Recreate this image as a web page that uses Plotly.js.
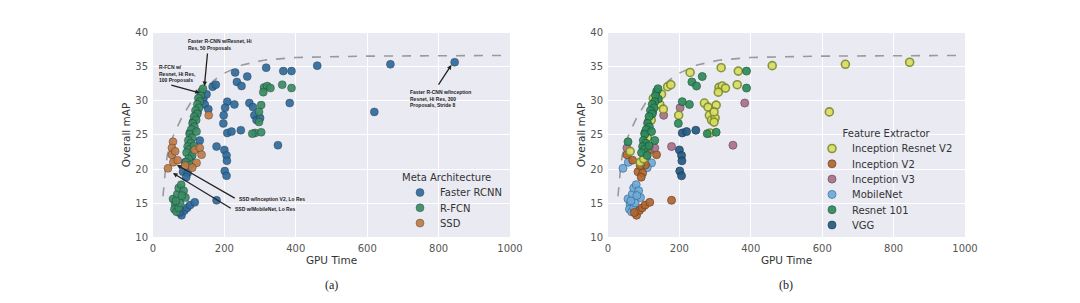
<!DOCTYPE html>
<html>
<head>
<meta charset="utf-8">
<script src="https://cdn.plot.ly/plotly-3.0.1.min.js"></script>
<style>html,body{margin:0;padding:0;background:#fff;}#chart{width:1080px;height:303px;}</style>
</head>
<body>
<div id="chart"></div>
<script>
// ---------- DATA ----------
const fasterTime = [460,665,845,620,317,365,388,230,264,167,176,235,248,383,208,228,198,270,280,284,290,300,197,208,220,246,350,178,200,206,207,201,206,178,80,88,96,104,117,74,125,112,103,84,97,141,150,118,131,202,145,155,93,107,90];
const fasterMAP  = [35.2,35.4,35.7,28.4,34.9,34.4,34.4,34.2,33.6,32.1,32.4,32.8,32.2,29.7,29.9,29.5,27.9,29.7,29.1,27.9,27.2,27.5,26.7,25.3,25.5,25.7,23.5,23.3,22.8,22.0,21.2,19.7,19.0,15.4,13.2,13.9,14.3,14.7,15.1,13.6,28.4,26.9,25.3,19.6,19.4,30.3,31.0,27.6,24.2,29.0,29.5,28.8,18.8,21.8,21.0];
const fasterExt  = ['Inception Resnet V2','Inception Resnet V2','Inception Resnet V2','Inception Resnet V2','Inception Resnet V2','Inception Resnet V2','Resnet 101','Inception Resnet V2','Resnet 101','Inception Resnet V2','Inception Resnet V2','Resnet 101','Resnet 101','Inception V3','Resnet 101','Resnet 101','Inception Resnet V2','Inception Resnet V2','Inception Resnet V2','Inception Resnet V2','Inception Resnet V2','Inception Resnet V2','Resnet 101','VGG','VGG','VGG','Inception V3','Inception V3','VGG','VGG','VGG','VGG','VGG','Inception V2','Inception V2','Inception V2','Inception V2','Inception V2','Inception V2','Inception V2','Resnet 101','Inception V3','Resnet 101','Inception V2','Inception V2','Resnet 101','Inception Resnet V2','Inception Resnet V2','Resnet 101','Inception V3','Inception Resnet V2','Inception Resnet V2','Inception V2','Inception V3','Inception Resnet V2'];

const rfcnTime = [311,320,329,309,362,388,303,297,297,286,303,278,136,133,127,131,124,129,119,124,115,121,111,116,107,103,110,99,106,97,102,94,110,100,92,105,115,122,140,56,62,60,66,72,76,68,72,79,86,91,81,64];
const rfcnMAP  = [32.0,32.2,31.9,31.3,32.4,31.9,29.4,28.4,26.9,25.3,25.4,25.2,31.4,30.8,30.4,29.9,29.5,29.0,28.6,28.1,27.7,27.2,26.7,26.2,25.8,25.1,24.6,24.2,23.8,23.3,22.9,22.4,22.0,21.5,21.0,20.6,23.4,25.5,31.8,15.6,14.8,14.1,13.7,14.3,15.0,16.3,17.2,17.7,16.8,15.8,16.1,15.3];
const rfcnExt  = ['Inception Resnet V2','Inception Resnet V2','Inception Resnet V2','Inception Resnet V2','Inception Resnet V2','Resnet 101','Inception Resnet V2','Inception Resnet V2','Inception Resnet V2','Inception Resnet V2','Resnet 101','Resnet 101','Resnet 101','Resnet 101','Inception Resnet V2','Resnet 101','Resnet 101','Resnet 101','Resnet 101','Resnet 101','Resnet 101','Inception Resnet V2','Resnet 101','Resnet 101','Resnet 101','Resnet 101','Inception Resnet V2','Resnet 101','Resnet 101','Resnet 101','Resnet 101','Resnet 101','Resnet 101','Inception Resnet V2','Inception V3','Inception V2','Resnet 101','Resnet 101','Resnet 101','MobileNet','MobileNet','MobileNet','MobileNet','MobileNet','MobileNet','MobileNet','MobileNet','MobileNet','MobileNet','MobileNet','MobileNet','MobileNet'];

const ssdTime = [56,53,53,57,42,69,117,131,136,122,156,90,62,110];
const ssdMAP  = [24.0,23.1,22.1,21.0,20.1,21.3,22.8,23.1,22.1,20.9,27.9,20.5,22.6,20.2];
const ssdExt  = ['Resnet 101','Inception V3','Inception V2','MobileNet','MobileNet','Inception V2','Inception V2','Inception V3','Inception V2','MobileNet','Inception V3','Inception V2','Inception Resnet V2','MobileNet'];

const frontierTime = [28,31,35,40,50,62,80,105,135,170,200,250,310,400,600,1000];
const frontierMAP  = [16,18,20,22,24,25.5,27.5,29.7,31.2,33,34.1,35.3,36,36.4,36.6,36.7];

const metaNames = ['Faster RCNN','R-FCN','SSD'];
const extractorNames = ['Inception Resnet V2','Inception V2','Inception V3','MobileNet','Resnet 101','VGG'];
const xTicks = [0,200,400,600,800,1000];
const yTicks = [10,15,20,25,30,35,40];

// ---------- STYLE ----------
const metaColors = {'Faster RCNN':'#2f6b9c','R-FCN':'#3a8c62','SSD':'#c27b45'};
const extStyle = {
  'Inception Resnet V2':{fill:'#dcdc62',line:'#7c8f2e',w:1.6},
  'Inception V2':{fill:'#b0662f',line:'#6e3f1c',w:0.8},
  'Inception V3':{fill:'#a8718a',line:'#6d4657',w:0.8},
  'MobileNet':{fill:'#6eaad8',line:'#3f6f95',w:0.8},
  'Resnet 101':{fill:'#2f8a5c',line:'#1c5a3a',w:0.8},
  'VGG':{fill:'#245a82',line:'#163a55',w:0.8}
};

const groups = [
  {name:'Faster RCNN', t:fasterTime, m:fasterMAP, e:fasterExt},
  {name:'R-FCN', t:rfcnTime, m:rfcnMAP, e:rfcnExt},
  {name:'SSD', t:ssdTime, m:ssdMAP, e:ssdExt}
];

const traces = [];
['', '2'].forEach(s => traces.push({
  x: frontierTime, y: frontierMAP, xaxis:'x'+s, yaxis:'y'+s, mode:'lines', showlegend:false,
  hoverinfo:'skip', line:{color:'#9a9a9a', width:1.6, dash:'dash'}
}));
groups.forEach(g => traces.push({
  x:g.t, y:g.m, xaxis:'x', yaxis:'y', mode:'markers', type:'scatter', name:g.name, legend:'legend',
  marker:{size:8, color:metaColors[g.name], opacity:0.92, line:{color:'rgba(20,40,50,0.55)', width:0.7}}
}));
const allT = [].concat(fasterTime, rfcnTime, ssdTime);
const allM = [].concat(fasterMAP, rfcnMAP, ssdMAP);
const allE = [].concat(fasterExt, rfcnExt, ssdExt);
const drawOrder = ['VGG','MobileNet','Inception V2','Inception V3','Inception Resnet V2','Resnet 101'];
drawOrder.forEach(ex => {
  const xs=[], ys=[];
  allE.forEach((e,i)=>{ if(e===ex){ xs.push(allT[i]); ys.push(allM[i]); } });
  const st = extStyle[ex];
  traces.push({
    x:xs, y:ys, xaxis:'x2', yaxis:'y2', mode:'markers', type:'scatter', name:ex, legend:'legend2',
    legendrank: 100 + extractorNames.indexOf(ex),
    marker:{size:8, color:st.fill, opacity:0.92, line:{color:st.line, width:st.w}}
  });
});

const tickFont = {family:'DejaVu Sans, sans-serif', size:10, color:'#555'};
const titleFont = {family:'DejaVu Sans, sans-serif', size:10.5, color:'#333'};
function xax(dom){ return {domain:dom, range:[0,1000], tickvals:xTicks, showgrid:true, gridcolor:'#ffffff', gridwidth:1,
  zeroline:false, showline:false, ticks:'', ticklabelstandoff:4, tickfont:tickFont, title:{text:'GPU Time', font:titleFont, standoff:3}}; }
function yax(anchor){ return {domain:[0.2178,0.8911], range:[10,40], tickvals:yTicks, showgrid:true, gridcolor:'#ffffff', gridwidth:1,
  zeroline:false, showline:false, ticks:'', ticklabelstandoff:4, tickfont:tickFont, anchor:anchor, title:{text:'Overall mAP', font:titleFont, standoff:2}}; }

const annFont = {family:'Liberation Sans, Arial, sans-serif', size:5, color:'#222'};
function arrow(x,y,ax,ay){ return {xref:'x', yref:'y', axref:'x', ayref:'y', x:x, y:y, ax:ax, ay:ay, text:'', showarrow:true,
  arrowhead:2, arrowsize:0.7, arrowwidth:1.3, arrowcolor:'#222'}; }
function note(x,y,t){ return {xref:'x', yref:'y', x:x, y:y, text:'<b>'+t+'</b>', showarrow:false, xanchor:'left', yanchor:'middle', align:'left', font:annFont}; }
const legFont = {family:'DejaVu Sans, sans-serif', size:10, color:'#333'};

const layout = {
  width:1080, height:303, margin:{l:0,r:0,t:0,b:0}, paper_bgcolor:'#ffffff', plot_bgcolor:'#EAEAF2',
  xaxis: Object.assign(xax([153/1080, 510/1080]), {anchor:'y'}),
  yaxis: yax('x'),
  xaxis2: Object.assign(xax([608/1080, 965/1080]), {anchor:'y2'}),
  yaxis2: yax('x2'),
  legend:{x:400/1080, y:(303-168)/303, xanchor:'left', yanchor:'top', bgcolor:'rgba(0,0,0,0)', font:legFont,
    title:{text:'Meta Architecture', font:legFont}},
  legend2:{x:812/1080, y:(303-124)/303, xanchor:'left', yanchor:'top', bgcolor:'rgba(0,0,0,0)', font:legFont,
    title:{text:'&nbsp;&nbsp;&nbsp;&nbsp;&nbsp;&nbsp;&nbsp;&nbsp;&nbsp;Feature Extractor', font:legFont}},
  annotations:[
    arrow(144,32.2,153,37.2),
    note(92,38.3,'Faster R-CNN w/Resnet, Hi<br>Res, 50 Proposals'),
    arrow(131,31.2,47,32.4),
    note(11,34.1,'R-FCN w/<br>Resnet, Hi Res,<br>100 Proposals'),
    arrow(836,35.3,797,32.2),
    note(714,30.4,'Faster R-CNN w/Inception<br>Resnet, Hi Res, 300<br>Proposals, Stride 8'),
    arrow(67,20.6,233,15.6),
    note(236,15.6,'SSD w/Inception V2, Lo Res'),
    arrow(56,19.4,222,14.1),
    note(225,14.1,'SSD w/MobileNet, Lo Res'),
    {xref:'paper', yref:'paper', x:331/1080, y:(303-285)/303, xanchor:'center', yanchor:'middle', text:'(a)', showarrow:false, font:{family:'Liberation Serif, serif', size:12, color:'#222'}},
    {xref:'paper', yref:'paper', x:786/1080, y:(303-285)/303, xanchor:'center', yanchor:'middle', text:'(b)', showarrow:false, font:{family:'Liberation Serif, serif', size:12, color:'#222'}}
  ]
};

Plotly.newPlot('chart', traces, layout, {staticPlot:true, displayModeBar:false}).then(gd => {
  // tighten legend row spacing to match the reference
  ['legend','legend2'].forEach(cls => {
    const lg = gd.querySelector('g.' + cls);
    if (!lg) return;
    const items = Array.from(lg.querySelectorAll('g.traces'));
    if (!items.length) return;
    const parse = el => {
      const m = /translate\(\s*([-\d.]+)[ ,]+([-\d.]+)/.exec(el.getAttribute('transform') || '');
      return m ? [parseFloat(m[1]), parseFloat(m[2])] : [0,0];
    };
    const y0 = parse(items[0])[1];
    items.forEach((el, i) => {
      const p = parse(el);
      el.setAttribute('transform', 'translate(' + p[0] + ',' + (y0 - 3 + i * 15.3) + ')');
    });
  });
});
</script>
</body>
</html>
